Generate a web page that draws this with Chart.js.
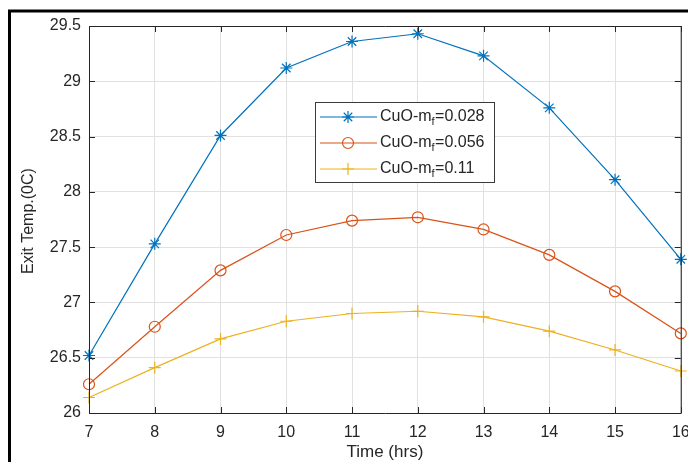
<!DOCTYPE html>
<html>
<head>
<meta charset="utf-8">
<script src="https://cdn.jsdelivr.net/npm/chart.js@4/dist/chart.umd.min.js"></script>
<style>
  html, body { margin: 0; padding: 0; background: #fff; }
  #grafico { display: block; }
</style>
</head>
<body>
<canvas id="grafico" width="688" height="462"></canvas>
<script>
// --- dados ---
const horas = [7, 8, 9, 10, 11, 12, 13, 14, 15, 16];
const tempCuO028 = [26.52, 27.53, 28.51, 29.12, 29.36, 29.43, 29.23, 28.76, 28.11, 27.39];
const tempCuO056 = [26.26, 26.78, 27.29, 27.61, 27.74, 27.77, 27.66, 27.43, 27.10, 26.72];
const tempCuO11  = [26.14, 26.41, 26.67, 26.83, 26.90, 26.92, 26.87, 26.74, 26.57, 26.38];
const fracoes = ['0.028', '0.056', '0.11'];
const yTicks = [26, 26.5, 27, 27.5, 28, 28.5, 29, 29.5];

const FONTE = '"Liberation Sans", Arial, sans-serif';
const cores = ['#0072BD', '#D95319', '#EDB120'];
const marcadores = ['star', 'circle', 'cross'];

// moldura externa, caixa do eixo com ticks internos, legenda e títulos
const moldura = {
  id: 'moldura',
  beforeDraw(chart) {
    const ctx = chart.ctx;
    ctx.save();
    ctx.fillStyle = '#fff';
    ctx.fillRect(0, 0, chart.width, chart.height);
    ctx.strokeStyle = '#000';
    ctx.lineWidth = 3;
    ctx.beginPath();
    ctx.moveTo(9.5, chart.height);
    ctx.lineTo(9.5, 11);
    ctx.lineTo(chart.width, 11);
    ctx.stroke();
    ctx.restore();
  },
  afterDatasetsDraw(chart) {
    const { ctx, chartArea: a, scales } = chart;
    ctx.save();
    ctx.strokeStyle = '#262626';
    ctx.lineWidth = 1;
    ctx.beginPath();
    ctx.rect(Math.round(a.left) + 0.5, Math.round(a.top) + 0.5, a.right - a.left, a.bottom - a.top);
    scales.x.ticks.forEach((t, i) => {
      const x = Math.round(scales.x.getPixelForTick(i)) + 0.5;
      ctx.moveTo(x, a.bottom); ctx.lineTo(x, a.bottom - 6);
      ctx.moveTo(x, a.top); ctx.lineTo(x, a.top + 6);
    });
    yTicks.forEach(v => {
      const y = Math.round(scales.y.getPixelForValue(v)) + 0.5;
      ctx.moveTo(a.left, y); ctx.lineTo(a.left + 6, y);
      ctx.moveTo(a.right, y); ctx.lineTo(a.right - 6, y);
    });
    ctx.stroke();
    ctx.restore();
  },
  afterDraw(chart) {
    const { ctx, chartArea: a } = chart;
    ctx.save();
    ctx.fillStyle = '#262626';
    ctx.textAlign = 'center';
    ctx.textBaseline = 'middle';
    ctx.font = '17px ' + FONTE;
    ctx.fillText('Time (hrs)', (a.left + a.right) / 2, 452);
    ctx.translate(29, 221);
    ctx.rotate(-Math.PI / 2);
    ctx.font = '16px ' + FONTE;
    ctx.fillText('Exit Temp.(0C)', 0, 0);
    ctx.restore();

    // legenda
    ctx.save();
    ctx.fillStyle = '#fff';
    ctx.fillRect(315, 102, 179, 80);
    ctx.strokeStyle = '#3a3a3a';
    ctx.lineWidth = 1;
    ctx.strokeRect(315.5, 102.5, 179, 80);
    const linhas = [117, 143, 169];
    chart.data.datasets.forEach((ds, i) => {
      const y = linhas[i];
      ctx.strokeStyle = ds.borderColor;
      ctx.lineWidth = 1.2;
      ctx.beginPath();
      ctx.moveTo(320, y); ctx.lineTo(377, y);
      ctx.stroke();
      ctx.fillStyle = 'rgba(0,0,0,0)';
      Chart.helpers.drawPoint(ctx, {
        pointStyle: ds.pointStyle, radius: ds.pointRadius, rotation: 0, borderWidth: 1.2
      }, 348, y);
      ctx.fillStyle = '#262626';
      ctx.textAlign = 'left';
      ctx.textBaseline = 'middle';
      ctx.font = '16px ' + FONTE;
      let x = 380;
      ctx.fillText('CuO-m', x, y);
      x += ctx.measureText('CuO-m').width;
      ctx.font = '11px ' + FONTE;
      ctx.fillText('f', x, y + 5);
      x += ctx.measureText('f').width + 0.5;
      ctx.font = '16px ' + FONTE;
      ctx.fillText('=' + fracoes[i], x, y);
    });
    ctx.restore();
  }
};

function serie(dados, i) {
  return {
    label: 'CuO-mf=' + fracoes[i],
    data: dados,
    borderColor: cores[i],
    backgroundColor: 'transparent',
    borderWidth: 1.2,
    pointStyle: marcadores[i],
    pointRadius: i === 1 ? 5.5 : 6,
    pointBorderColor: cores[i],
    pointBackgroundColor: 'transparent',
    pointBorderWidth: 1.2,
    tension: 0,
    clip: false
  };
}

new Chart(document.getElementById('grafico'), {
  type: 'line',
  data: {
    labels: horas,
    datasets: [serie(tempCuO028, 0), serie(tempCuO056, 1), serie(tempCuO11, 2)]
  },
  options: {
    responsive: false,
    animation: false,
    devicePixelRatio: 1,
    layout: { padding: { top: 26, right: 5, left: 0, bottom: 0 } },
    plugins: { legend: { display: false }, tooltip: { enabled: false } },
    scales: {
      x: {
        type: 'category',
        offset: false,
        grid: { color: '#e1e1e1', drawTicks: false },
        border: { display: false },
        ticks: { padding: 10, color: '#262626', font: { family: FONTE, size: 16 }, maxRotation: 0, autoSkip: false },
        afterFit(s) { s.height = 49; s.paddingLeft = 0; s.paddingRight = 0; }
      },
      y: {
        min: 26,
        max: 29.5,
        grid: { color: '#e1e1e1', drawTicks: false },
        border: { display: false },
        afterBuildTicks(s) { s.ticks = yTicks.map(v => ({ value: v })); },
        ticks: { padding: 8, color: '#262626', font: { family: FONTE, size: 16 }, callback: v => String(v) },
        afterFit(s) { s.width = 89; s.paddingTop = 0; s.paddingBottom = 0; }
      }
    }
  },
  plugins: [moldura]
});
</script>
</body>
</html>
